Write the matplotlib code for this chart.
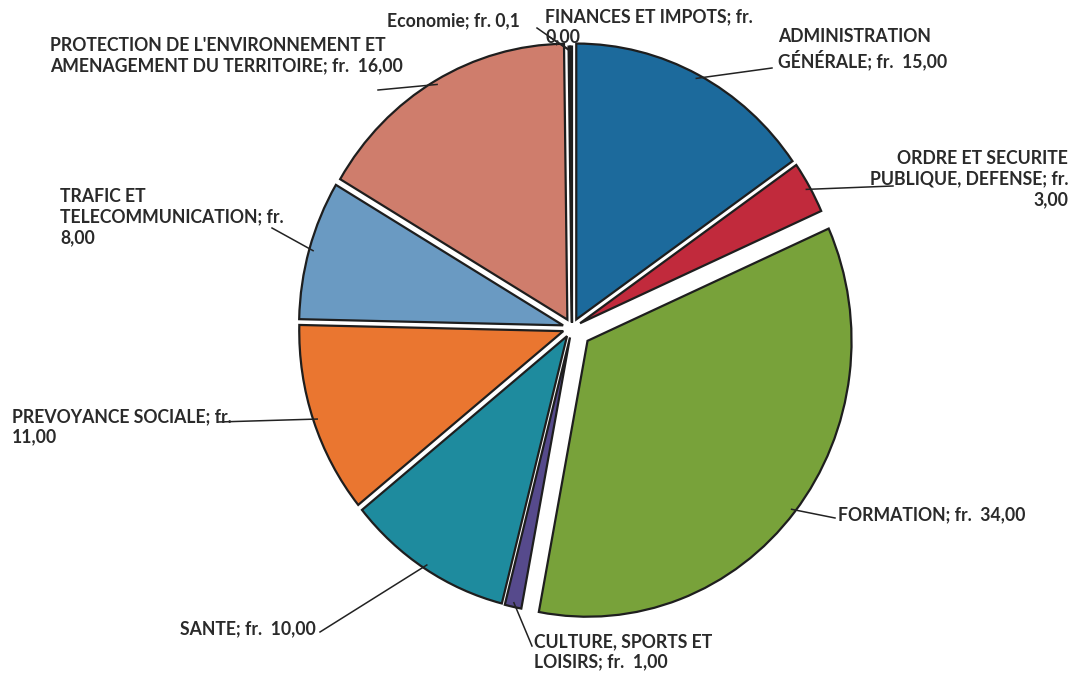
import numpy as np
import matplotlib.pyplot as plt

# --- data (clockwise from 12 o'clock) ---
categories = ["ADMINISTRATION GÉNÉRALE", "ORDRE ET SECURITE PUBLIQUE, DEFENSE", "FORMATION",
              "CULTURE, SPORTS ET LOISIRS", "SANTE", "PREVOYANCE SOCIALE",
              "TRAFIC ET TELECOMMUNICATION", "PROTECTION DE L'ENVIRONNEMENT ET AMENAGEMENT DU TERRITOIRE",
              "Economie", "FINANCES ET IMPOTS"]
values = [15, 3, 34, 1, 10, 11, 8, 16, 0.1, 0.1]
label_texts = [
    "ADMINISTRATION\nGÉNÉRALE; fr.  15,00",
    "ORDRE ET SECURITE\nPUBLIQUE, DEFENSE; fr.\n3,00",
    "FORMATION; fr.  34,00",
    "CULTURE, SPORTS ET\nLOISIRS; fr.  1,00",
    "SANTE; fr.  10,00",
    "PREVOYANCE SOCIALE; fr.\n11,00",
    "TRAFIC ET\nTELECOMMUNICATION; fr.\n8,00",
    "PROTECTION DE L'ENVIRONNEMENT ET\nAMENAGEMENT DU TERRITOIRE; fr.  16,00",
    "Economie; fr. 0,1",
    "FINANCES ET IMPOTS; fr.\n0,00",
]
colors = ["#1c6a9c", "#c12a3c", "#78a23a", "#564a8c", "#1e8b9e", "#ea7630",
          "#6a9ac2", "#cf7d6c", "#e6ebb4", "#f4f4e0"]
explode_frac = [0.035, 0.035, 0.075, 0.035, 0.035, 0.035, 0.035, 0.035, 0.02, 0.02]

# label layout in pixel coords (image y down): text x, text top, ha, leader end
label_pos = [
    (778, 28, 'left', (772, 68)),
    (1068, 150, 'right', (893, 186)),
    (838, 506, 'left', (835, 518)),
    (534, 633, 'left', (532, 646)),
    (180, 620, 'left', (320, 632)),
    (12, 408, 'left', (218, 422)),
    (60, 188, 'left', (272, 228)),
    (50, 37, 'left', (378, 90)),
    (387, 12, 'left', (537, 28)),
    (545, 8, 'left', (548, 36)),
]

W, H = 1081, 680
CX, CY, R = 572, 328, 264
SY = 1.045  # the scanned pie is slightly taller than wide


def to_data(px, py):
    return px, (H - py) / SY


plt.rcParams['font.family'] = ['Lato', 'DejaVu Sans']
fig = plt.figure(figsize=(W / 100, H / 100), dpi=100)
ax = fig.add_axes([0, 0, 1, 1])

wedges, _ = ax.pie(values, colors=colors, explode=[f * R for f in explode_frac],
                   startangle=90, counterclock=False,
                   center=to_data(CX, CY), radius=R,
                   wedgeprops=dict(edgecolor='#1e1e1e', linewidth=1.6))
ax.set_xlim(0, W)
ax.set_ylim(0, H / SY)
ax.set_aspect('auto')
ax.axis('off')

for w, txt, (tx, ty, ha, end) in zip(wedges, label_texts, label_pos):
    mid = np.deg2rad((w.theta1 + w.theta2) / 2)
    sx = w.center[0] + w.r * 0.985 * np.cos(mid)
    sy = w.center[1] + w.r * 0.985 * np.sin(mid)
    ex, ey = to_data(*end)
    ax.plot([sx, ex], [sy, ey], color='#222222', lw=1.1)
    ax.text(*to_data(tx, ty), txt, ha=ha, va='top', fontsize=12.7, fontweight='bold',
            color='#2a2a2a', multialignment=ha, linespacing=1.25)

fig.savefig('out.png', dpi=100, facecolor='white')
